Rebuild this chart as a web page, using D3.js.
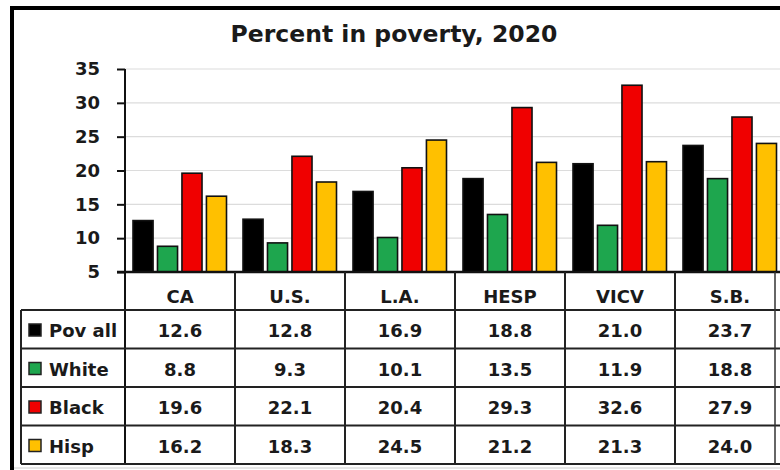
<!DOCTYPE html>
<html>
<head>
<meta charset="utf-8">
<script src="https://cdn.jsdelivr.net/npm/d3@7"></script>
<style>
  body { margin: 0; background: #fff; }
  svg text { font-family: "DejaVu Sans", sans-serif; font-weight: bold; fill: #1a1a1a; }
</style>
</head>
<body>
<div class="viz"></div>
<script>
// data
const places = ["CA", "U.S.", "L.A.", "HESP", "VICV", "S.B."];
const seriesNames = ["Pov all", "White", "Black", "Hisp"];
const povAll = [12.6, 12.8, 16.9, 18.8, 21.0, 23.7];
const white = [8.8, 9.3, 10.1, 13.5, 11.9, 18.8];
const black = [19.6, 22.1, 20.4, 29.3, 32.6, 27.9];
const hisp = [16.2, 18.3, 24.5, 21.2, 21.3, 24.0];
const yTicks = [5, 10, 15, 20, 25, 30, 35];
const colors = ["#000000", "#1ea64e", "#f00000", "#ffc000"];

const allSeries = [povAll, white, black, hisp];

const W = 780, H = 470;
const plot = { left: 125, right: 785, top: 69, bottom: 272 };
const rowH = 38.5;
const tableTop = 310;

var svg = d3.select(".viz")
  .append("svg")
  .attr("width", W)
  .attr("height", H);

/* scales */
var xscale = d3.scaleBand()
  .domain(places)
  .range([plot.left, plot.right]);

var xinner = d3.scaleBand()
  .domain(seriesNames)
  .range([8, 101.5])
  .paddingInner(0.18);

var yscale = d3.scaleLinear()
  .domain([5, 35])
  .range([plot.bottom, plot.top]);

/* gridlines */
svg.append("g")
  .selectAll("line")
  .data(yTicks.filter((d) => d > 5))
  .enter()
  .append("line")
  .attr("x1", plot.left)
  .attr("x2", W)
  .attr("y1", (d) => yscale(d))
  .attr("y2", (d) => yscale(d))
  .style("stroke", "#dcdcdc")
  .style("stroke-width", 1.2);

/* bars */
var groups = svg.append("g")
  .selectAll("g")
  .data(places)
  .enter()
  .append("g")
  .attr("transform", (d) => "translate(" + xscale(d) + ",0)");

groups.selectAll("rect")
  .data((p, i) => seriesNames.map((s, j) => ({ s: s, v: allSeries[j][i], c: colors[j] })))
  .enter()
  .append("rect")
  .attr("x", (d) => xinner(d.s))
  .attr("y", (d) => yscale(d.v))
  .attr("width", xinner.bandwidth())
  .attr("height", (d) => yscale(5) - yscale(d.v))
  .attr("fill", (d) => d.c)
  .style("stroke", "#111")
  .style("stroke-width", 1.6);

/* y axis */
var yaxis = d3.axisLeft()
  .scale(yscale)
  .tickValues(yTicks)
  .tickSize(8)
  .tickPadding(17);

var yg = svg.append("g")
  .attr("transform", "translate(" + plot.left + ",0)")
  .call(yaxis);
yg.select(".domain").remove();
yg.selectAll("line").style("stroke", "#111").style("stroke-width", 2);
yg.selectAll("text")
  .style("font-size", "18px")
  .style("font-family", "'DejaVu Sans', sans-serif")
  .style("font-weight", "bold")
  .attr("fill", "#1a1a1a");

// vertical axis line runs down through the table
svg.append("line")
  .attr("x1", plot.left).attr("x2", plot.left)
  .attr("y1", plot.top).attr("y2", tableTop + rowH * 4)
  .style("stroke", "#111").style("stroke-width", 2);

/* table */
var table = svg.append("g");
var rowY = (i) => tableTop + i * rowH;

// horizontal lines
table.append("line")
  .attr("x1", plot.left - 8).attr("x2", W)
  .attr("y1", plot.bottom).attr("y2", plot.bottom)
  .style("stroke", "#111").style("stroke-width", 2.5);

table.selectAll("line.row")
  .data([0, 1, 2, 3, 4])
  .enter()
  .append("line")
  .attr("class", "row")
  .attr("x1", 21).attr("x2", W)
  .attr("y1", (d) => rowY(d)).attr("y2", (d) => rowY(d))
  .style("stroke", "#222").style("stroke-width", 2);

// vertical lines between places
table.selectAll("line.col")
  .data(places.slice(1))
  .enter()
  .append("line")
  .attr("class", "col")
  .attr("x1", (d) => xscale(d)).attr("x2", (d) => xscale(d))
  .attr("y1", plot.bottom).attr("y2", rowY(4))
  .style("stroke", "#222").style("stroke-width", 2);

table.append("line")
  .attr("x1", 775).attr("x2", 775)
  .attr("y1", plot.bottom).attr("y2", rowY(4))
  .style("stroke", "#333").style("stroke-width", 1.5);

table.append("line")
  .attr("x1", 21).attr("x2", 21)
  .attr("y1", tableTop).attr("y2", rowY(4))
  .style("stroke", "#222").style("stroke-width", 2);

// header labels
table.selectAll("text.head")
  .data(places)
  .enter()
  .append("text")
  .attr("class", "head")
  .attr("x", (d) => xscale(d) + xscale.bandwidth() / 2)
  .attr("y", plot.bottom + 31)
  .attr("text-anchor", "middle")
  .style("font-size", "18px")
  .text((d) => d);

// legend keys + names
var rows = table.selectAll("g.rowg")
  .data(seriesNames)
  .enter()
  .append("g")
  .attr("class", "rowg")
  .attr("transform", (d, i) => "translate(0," + rowY(i) + ")");

rows.append("rect")
  .attr("x", 29)
  .attr("y", 14)
  .attr("width", 12)
  .attr("height", 12)
  .attr("fill", (d, i) => colors[i])
  .style("stroke", "#222")
  .style("stroke-width", 1.5);

rows.append("text")
  .attr("x", 49)
  .attr("y", 27)
  .style("font-size", "18px")
  .text((d) => d);

rows.selectAll("text.val")
  .data((d, i) => allSeries[i].map((v, k) => ({ v: v, p: places[k] })))
  .enter()
  .append("text")
  .attr("class", "val")
  .attr("x", (d) => xscale(d.p) + xscale.bandwidth() / 2)
  .attr("y", 27)
  .attr("text-anchor", "middle")
  .style("font-size", "18px")
  .text((d) => d3.format(".1f")(d.v));

/* title */
svg.append("text")
  .attr("x", 394)
  .attr("y", 42)
  .attr("text-anchor", "middle")
  .style("font-size", "23.5px")
  .text("Percent in poverty, 2020");

/* outer frame */
svg.append("line")
  .attr("x1", 10).attr("x2", W)
  .attr("y1", 8).attr("y2", 8)
  .style("stroke", "#000").style("stroke-width", 4);
svg.append("line")
  .attr("x1", 12).attr("x2", 12)
  .attr("y1", 6).attr("y2", H)
  .style("stroke", "#000").style("stroke-width", 4);
svg.append("line")
  .attr("x1", 14).attr("x2", W)
  .attr("y1", 468).attr("y2", 468)
  .style("stroke", "#ccc").style("stroke-width", 1);
</script>
</body>
</html>
